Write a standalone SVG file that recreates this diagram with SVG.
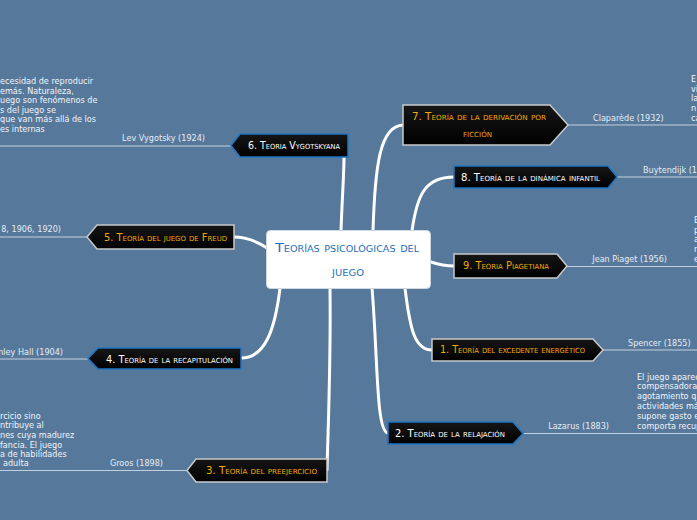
<svg xmlns="http://www.w3.org/2000/svg" width="697" height="520" viewBox="0 0 697 520">
<defs>
<linearGradient id="ng" x1="0" y1="0" x2="0" y2="1">
<stop offset="0" stop-color="#161616"/>
<stop offset="1" stop-color="#000"/>
</linearGradient>
<style>
.bg{fill:#56789b}
.node{fill:url(#ng);stroke-width:1.5}
.gb{stroke:#c9c9c9}
.bb{stroke:#1f74c2}
.t{font-family:"DejaVu Sans Condensed","DejaVu Sans",sans-serif;font-variant:small-caps;font-size:10px}
.or{fill:#f2a900}
.wh{fill:#ffffff}
.main{fill:none;stroke:#ffffff;stroke-width:3;stroke-linecap:round}
.sub{fill:none;stroke:#c3d0dd;stroke-width:1.2}
.lbl{font-family:"DejaVu Sans Condensed","DejaVu Sans",sans-serif;font-size:9px;fill:#e6edf4}
.desc{font-family:"DejaVu Sans Condensed","DejaVu Sans",sans-serif;font-size:9px;fill:#f2f5f8}
.ct{font-family:"DejaVu Sans Condensed","DejaVu Sans",sans-serif;font-variant:small-caps;font-size:12px;fill:#1d6fb8}
</style>
</defs>
<rect class="bg" x="0" y="0" width="697" height="520"/>

<g id="connectors">
<path class="main" d="M341,231 C342,200 344,175 344,157"/>
<path class="main" d="M373,231 C375,165 380,126 403,125"/>
<path class="main" d="M412,231 C417,195 425,177 454,177"/>
<path class="main" d="M431,262 C440,265 446,266 454,266"/>
<path class="main" d="M405,288 C410,330 415,350 432,350"/>
<path class="main" d="M372,288 C378,360 376,432 388,433"/>
<path class="main" d="M330,288 C331,360 328,430 327,470"/>
<path class="main" d="M280,288 C275,330 265,358 241,358"/>
<path class="main" d="M267,248 C255,240 245,237 234,237"/>
<path class="sub" d="M0,146 H231"/>
<path class="sub" d="M0,237 H87"/>
<path class="sub" d="M0,359 H88"/>
<path class="sub" d="M0,470.5 H187"/>
<path class="sub" d="M568,125 H697"/>
<path class="sub" d="M617,177 H697"/>
<path class="sub" d="M567,266.5 H697"/>
<path class="sub" d="M603,350 H697"/>
<path class="sub" d="M523,433.5 H697"/>
</g>

<g id="center">
<rect x="266.5" y="230.5" width="164" height="58" rx="4" fill="#ffffff" stroke="#cfd8e0"/>
<text class="ct" x="275" y="252" textLength="144" lengthAdjust="spacingAndGlyphs">Teorías psicológicas del</text>
<text class="ct" x="332" y="276" textLength="32" lengthAdjust="spacingAndGlyphs">juego</text>
</g>

<g id="n6">
<polygon class="node bb" points="231,145.5 240,134 348,134 348,157 240,157"/>
<text class="t wh" x="248" y="149" textLength="92" lengthAdjust="spacingAndGlyphs">6. Teoria Vygotskyana</text>
</g>
<g id="n5">
<polygon class="node gb" points="87,237 97,225 234,225 234,249 97,249"/>
<text class="t or" x="104" y="240.5" textLength="123" lengthAdjust="spacingAndGlyphs">5. Teoría del juego de Freud</text>
</g>
<g id="n4">
<polygon class="node bb" points="88,358.5 98,348 241,348 241,369 98,369"/>
<text class="t wh" x="106" y="362.5" textLength="127" lengthAdjust="spacingAndGlyphs">4. Teoría de la recapitulación</text>
</g>
<g id="n3">
<polygon class="node gb" points="187,470.5 196,459 327,459 327,482 196,482"/>
<text class="t or" x="206" y="473.5" textLength="111" lengthAdjust="spacingAndGlyphs">3. Teoría del preejercicio</text>
</g>
<g id="n7">
<polygon class="node gb" points="403,105 550,105 568,125 550,145 403,145"/>
<text class="t or" x="412" y="120" textLength="134" lengthAdjust="spacingAndGlyphs">7. Teoría de la derivación por</text>
<text class="t or" x="463" y="136.5" textLength="29" lengthAdjust="spacingAndGlyphs">ficción</text>
</g>
<g id="n8">
<polygon class="node bb" points="454,166 608,166 617,177 608,188 454,188"/>
<text class="t wh" x="461" y="180.5" textLength="139" lengthAdjust="spacingAndGlyphs">8. Teoría de la dinámica infantil</text>
</g>
<g id="n9">
<polygon class="node gb" points="454,254 557,254 567,266 557,278 454,278"/>
<text class="t or" x="463" y="269" textLength="86" lengthAdjust="spacingAndGlyphs">9. Teoria Piagetiana</text>
</g>
<g id="n1">
<polygon class="node gb" points="432,339 593,339 603,350 593,361 432,361"/>
<text class="t or" x="440" y="352.5" textLength="145" lengthAdjust="spacingAndGlyphs">1. Teoría del excedente energético</text>
</g>
<g id="n2">
<polygon class="node bb" points="388,422 513,422 523,433.5 513,444 388,444"/>
<text class="t wh" x="395" y="436.5" textLength="110" lengthAdjust="spacingAndGlyphs">2. Teoría de la relajación</text>
</g>

<g id="labels">
<text class="lbl" x="205" y="141" text-anchor="end">Lev Vygotsky (1924)</text>
<text class="lbl" x="61" y="232" text-anchor="end">8, 1906, 1920)</text>
<text class="lbl" x="63" y="354.5" text-anchor="end">nley Hall (1904)</text>
<text class="lbl" x="163" y="465.5" text-anchor="end">Groos (1898)</text>
<text class="lbl" x="593" y="121">Claparède (1932)</text>
<text class="lbl" x="643" y="173">Buytendijk (1</text>
<text class="lbl" x="667" y="262" text-anchor="end">Jean Piaget (1956)</text>
<text class="lbl" x="628" y="346">Spencer (1855)</text>
<text class="lbl" x="609" y="428.5" text-anchor="end">Lazarus (1883)</text>
</g>

<g id="descriptions">
<text class="desc"><tspan x="0" y="84">ecesidad de reproducir</tspan><tspan x="0" y="93.6">emás. Naturaleza,</tspan><tspan x="0" y="103.2">uego son fenómenos de</tspan><tspan x="0" y="112.8">s del juego se</tspan><tspan x="0" y="122.4">que van más allá de los</tspan><tspan x="0" y="132">es internas</tspan></text>
<text class="desc"><tspan x="691" y="82">E</tspan><tspan x="691" y="91.7">vi</tspan><tspan x="691" y="101.4">la</tspan><tspan x="691" y="111.1">n</tspan><tspan x="691" y="121">ca</tspan></text>
<text class="desc"><tspan x="694" y="223">E</tspan><tspan x="694" y="232.6">p</tspan><tspan x="694" y="242.2">a</tspan><tspan x="694" y="251.8">n</tspan><tspan x="694" y="262">e</tspan></text>
<text class="desc"><tspan x="637" y="379.7">El juego aparec</tspan><tspan x="637" y="389.4">compensadora</tspan><tspan x="637" y="399.1">agotamiento q</tspan><tspan x="637" y="408.8">actividades má</tspan><tspan x="637" y="418.5">supone gasto e</tspan><tspan x="637" y="428.5">comporta recup</tspan></text>
<text class="desc"><tspan x="0" y="418.7">rcicio sino</tspan><tspan x="0" y="428.3">ntribuye al</tspan><tspan x="0" y="437.9">nes cuya madurez</tspan><tspan x="0" y="447.5">fancia. El juego</tspan><tspan x="0" y="457.1">a de habilidades</tspan><tspan x="3" y="465.7">adulta</tspan></text>
</g>
</svg>
